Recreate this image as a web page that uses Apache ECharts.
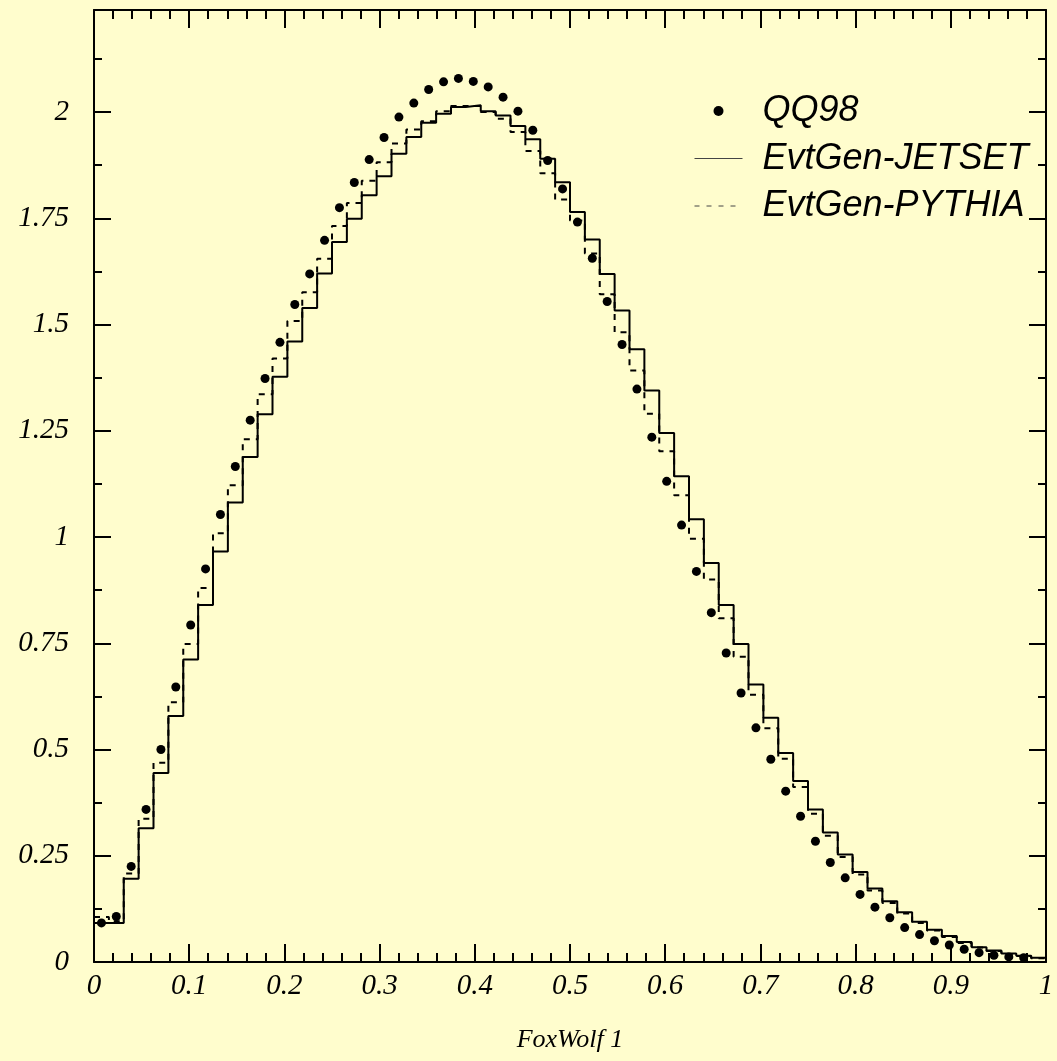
<!DOCTYPE html>
<html>
<head>
<meta charset="utf-8">
<script src="https://cdn.jsdelivr.net/npm/echarts@6/dist/echarts.min.js"></script>
<style>
  html, body { margin: 0; padding: 0; background: #fffdcd; }
  #chart { width: 1057px; height: 1061px; }
</style>
</head>
<body>
<div id="chart"></div>
<script>
// FoxWolf 1 distribution: 64 equal bins on [0, 1]
const binCount = 64;
const xRange = [0, 1];
const yRange = [0, 2.24];
const xTickStep = 0.1;
const yTickStep = 0.25;

// QQ98 (points, one per bin; last bin empty)
const qq98 = [
  0.092, 0.107, 0.225, 0.359, 0.500, 0.647, 0.793, 0.925,
  1.053, 1.166, 1.275, 1.373, 1.458, 1.547, 1.619, 1.698,
  1.775, 1.834, 1.888, 1.940, 1.988, 2.021, 2.053, 2.071,
  2.079, 2.072, 2.059, 2.035, 2.002, 1.957, 1.886, 1.819,
  1.741, 1.656, 1.554, 1.453, 1.348, 1.235, 1.131, 1.028,
  0.919, 0.822, 0.727, 0.633, 0.551, 0.477, 0.402, 0.343,
  0.284, 0.234, 0.198, 0.159, 0.129, 0.104, 0.081, 0.0645,
  0.050, 0.040, 0.030, 0.022, 0.016, 0.012, 0.010, null
];

// EvtGen-JETSET (solid histogram)
const jetset = [
  0.092, 0.092, 0.196, 0.315, 0.445, 0.579, 0.712, 0.840,
  0.966, 1.081, 1.188, 1.289, 1.377, 1.460, 1.539, 1.620,
  1.694, 1.749, 1.804, 1.849, 1.902, 1.941, 1.975, 1.996,
  2.012, 2.016, 2.002, 1.992, 1.967, 1.936, 1.890, 1.835,
  1.765, 1.700, 1.619, 1.533, 1.442, 1.345, 1.245, 1.143,
  1.042, 0.939, 0.840, 0.748, 0.653, 0.575, 0.492, 0.426,
  0.359, 0.305, 0.253, 0.212, 0.173, 0.143, 0.117, 0.095,
  0.076, 0.061, 0.047, 0.035, 0.027, 0.020, 0.015, 0.010
];

// EvtGen-PYTHIA (dashed histogram)
const pythia = [
  0.106, 0.096, 0.208, 0.337, 0.469, 0.611, 0.748, 0.880,
  1.009, 1.122, 1.230, 1.336, 1.420, 1.508, 1.576, 1.655,
  1.732, 1.786, 1.838, 1.882, 1.926, 1.959, 1.978, 2.002,
  2.014, 2.014, 2.000, 1.984, 1.953, 1.908, 1.856, 1.794,
  1.745, 1.667, 1.571, 1.482, 1.392, 1.290, 1.202, 1.098,
  0.996, 0.900, 0.809, 0.718, 0.629, 0.550, 0.478, 0.412,
  0.349, 0.297, 0.247, 0.206, 0.168, 0.139, 0.114, 0.092,
  0.074, 0.059, 0.045, 0.034, 0.026, 0.019, 0.014, 0.009
];

const seriesNames = ['QQ98', 'EvtGen-JETSET', 'EvtGen-PYTHIA'];
const axisTitle = 'FoxWolf 1';

// bin edges and centres
const edges = Array.from({ length: binCount + 1 }, (_, k) => xRange[0] + (xRange[1] - xRange[0]) * k / binCount);
const histData = vals => vals.map((v, i) => [edges[i], v]).concat([[edges[binCount], vals[binCount - 1]]]);
const pointData = vals => vals
  .map((v, i) => (v == null ? null : [(edges[i] + edges[i + 1]) / 2, v]))
  .filter(p => p !== null);

const INK = '#000';
const NONE = 'rgba(0,0,0,0)';
const serif = { fontFamily: 'Liberation Serif', fontStyle: 'italic', color: INK };
const frameLine = { show: true, onZero: false, lineStyle: { color: INK, width: 2 } };

function makeX(position, showLabels) {
  return {
    type: 'value', position, min: xRange[0], max: xRange[1], interval: xTickStep,
    axisLine: frameLine,
    axisTick: { show: true, inside: true, length: 18, lineStyle: { color: INK, width: 2 } },
    minorTick: { show: true, splitNumber: 5, length: 9, lineStyle: { color: INK, width: 2 } },
    splitLine: { show: false }, minorSplitLine: { show: false },
    axisLabel: Object.assign({ show: showLabels, fontSize: 29, margin: 10 }, serif),
    name: showLabels ? axisTitle : '',
    nameLocation: 'middle', nameGap: 65,
    nameTextStyle: Object.assign({ fontSize: 26 }, serif)
  };
}

function makeY(position, showLabels) {
  return {
    type: 'value', position, min: yRange[0], max: yRange[1], interval: yTickStep,
    axisLine: frameLine,
    axisTick: { show: true, inside: true, length: 17, lineStyle: { color: INK, width: 2 } },
    minorTick: { show: true, splitNumber: 2, length: 8, lineStyle: { color: INK, width: 2 } },
    splitLine: { show: false }, minorSplitLine: { show: false },
    axisLabel: Object.assign({
      show: showLabels, fontSize: 29, margin: 25, showMaxLabel: false,
      formatter: v => (Math.abs(v / yTickStep - Math.round(v / yTickStep)) < 1e-6 ? String(+v.toFixed(2)) : '')
    }, serif)
  };
}

const chart = echarts.init(document.getElementById('chart'), null, { renderer: 'canvas' });
chart.setOption({
  backgroundColor: '#fffdcd',
  animation: false,
  grid: { left: 94, top: 10, width: 952, height: 952, containLabel: false },
  xAxis: [makeX('bottom', true), makeX('top', false)],
  yAxis: [makeY('left', true), makeY('right', false)],
  legend: {
    orient: 'vertical', left: 689, top: 88,
    itemWidth: 48, itemHeight: 10, itemGap: 11.5,
    selectedMode: false,
    textStyle: { fontFamily: 'Liberation Sans', fontStyle: 'italic', fontSize: 36, lineHeight: 36, color: INK, padding: [0, 0, 0, 15] },
    data: [
      { name: seriesNames[0], icon: 'circle', itemStyle: { color: INK, opacity: 1 } },
      { name: seriesNames[1], itemStyle: { color: NONE, borderWidth: 0 }, lineStyle: { color: '#444', width: 1, type: 'solid' } },
      { name: seriesNames[2], itemStyle: { color: NONE, borderWidth: 0 }, lineStyle: { color: '#444', width: 1, type: [5, 7] } }
    ]
  },
  series: [
    {
      name: seriesNames[1], type: 'line', step: 'end',
      xAxisIndex: 0, yAxisIndex: 0,
      data: histData(jetset), symbol: 'none', showSymbol: false,
      itemStyle: { color: INK },
      lineStyle: { color: INK, width: 2, type: 'solid' }, z: 2
    },
    {
      name: seriesNames[2], type: 'line', step: 'end',
      xAxisIndex: 0, yAxisIndex: 0,
      data: histData(pythia), symbol: 'none', showSymbol: false,
      itemStyle: { color: INK },
      lineStyle: { color: INK, width: 2, type: [6, 6] }, z: 2
    },
    {
      name: seriesNames[0], type: 'scatter',
      xAxisIndex: 0, yAxisIndex: 0,
      data: pointData(qq98), symbol: 'circle', symbolSize: 9,
      itemStyle: { color: INK, opacity: 1 }, z: 4
    }
  ]
});
</script>
</body>
</html>
